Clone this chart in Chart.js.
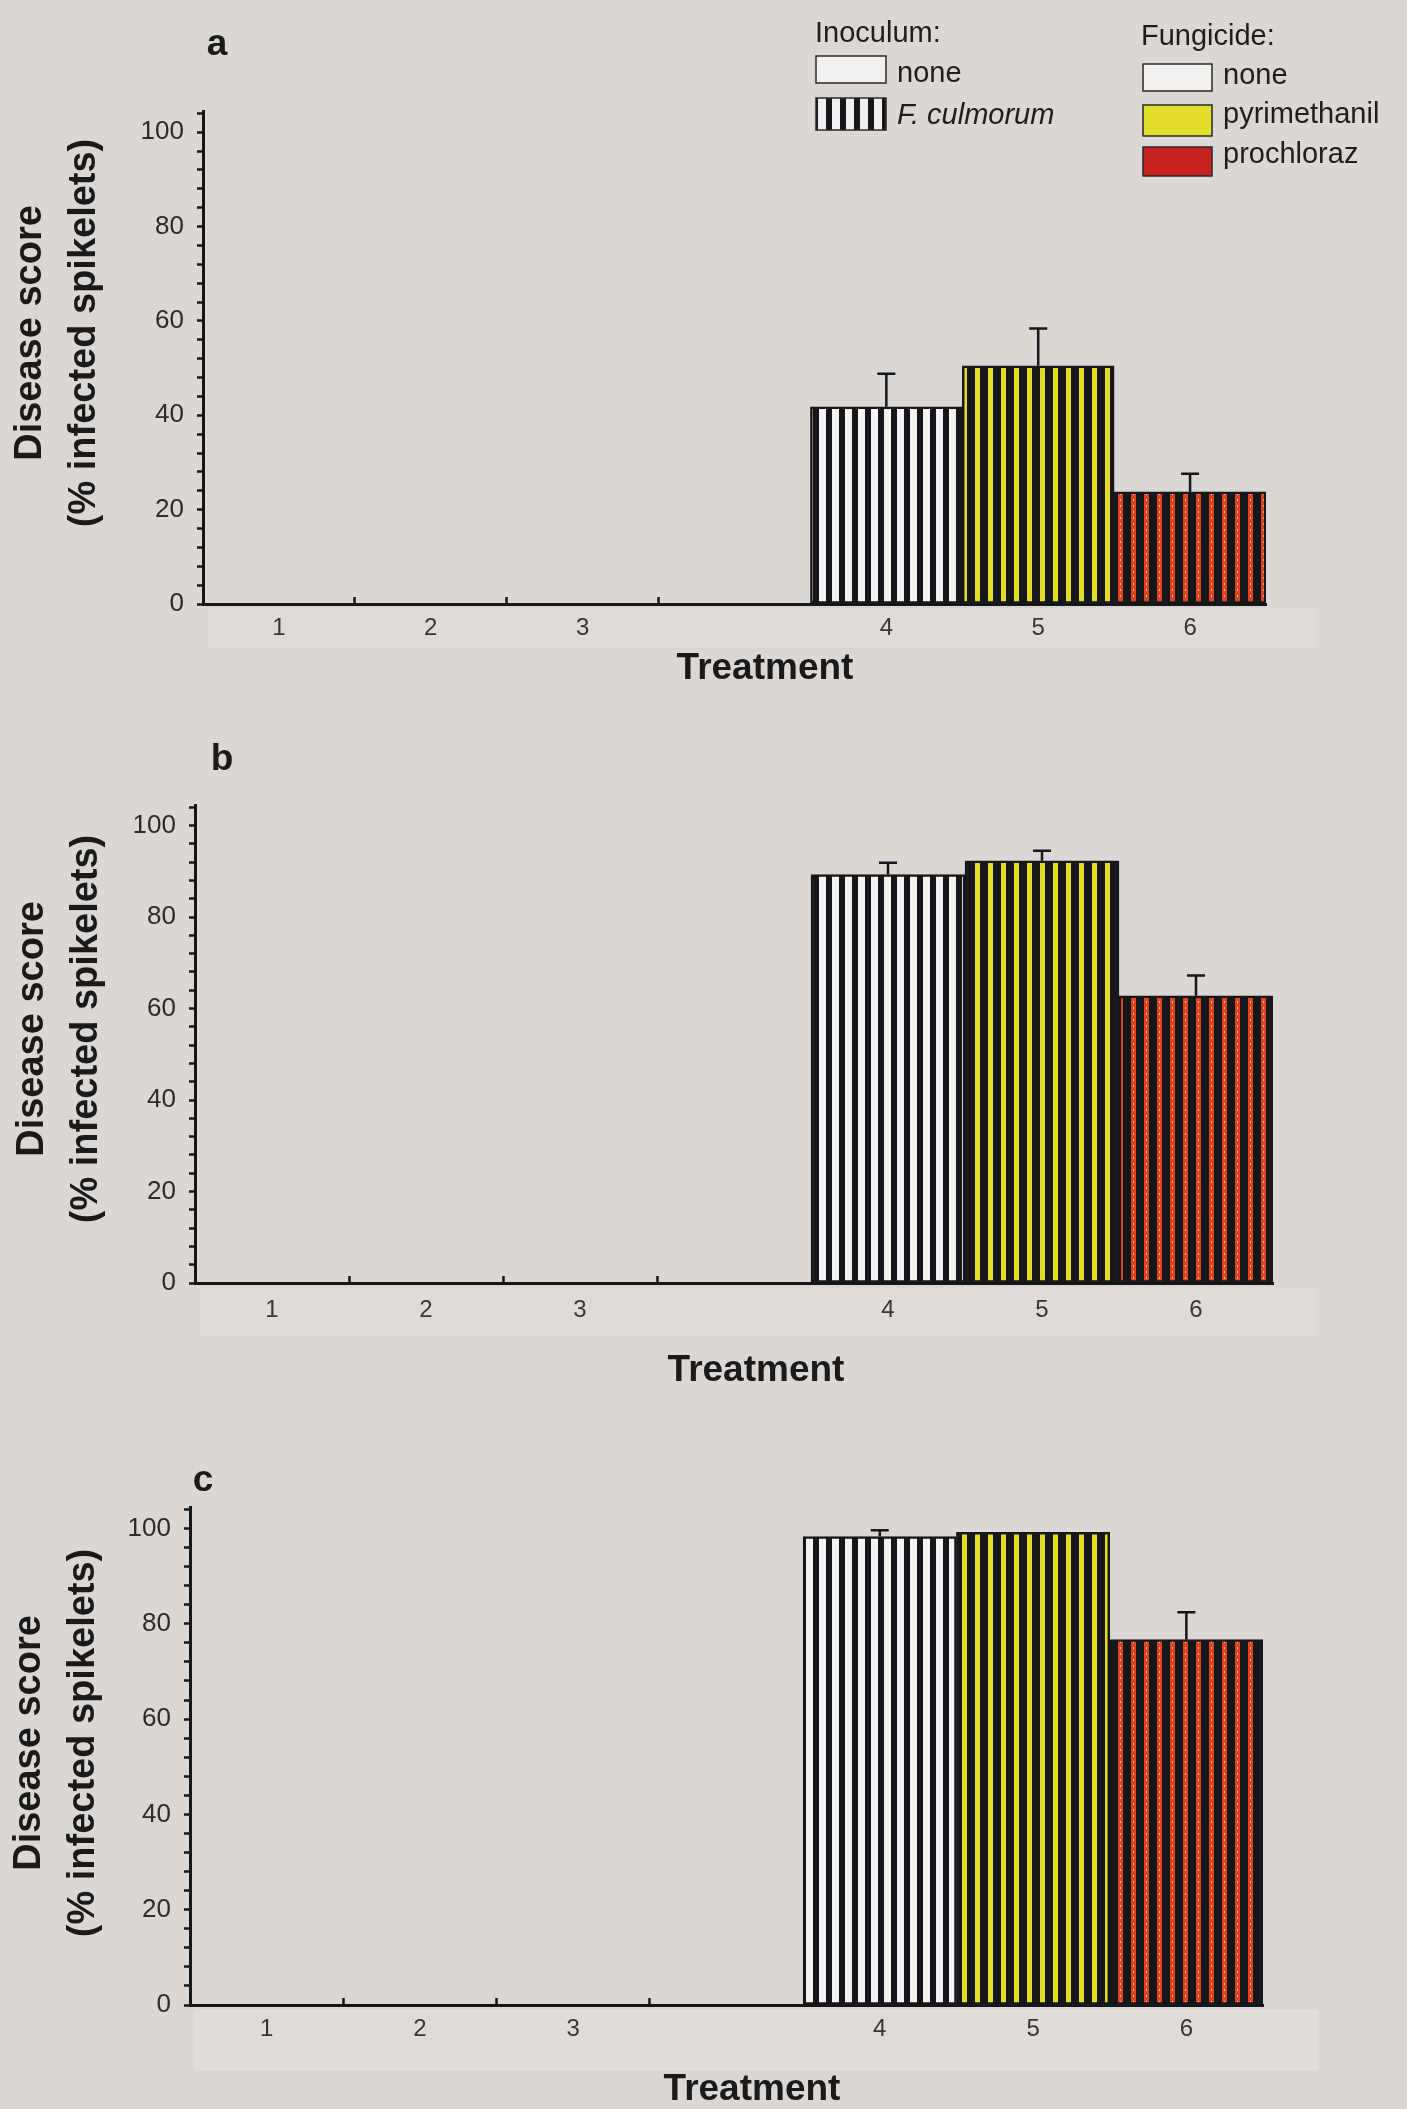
<!DOCTYPE html>
<html>
<head>
<meta charset="utf-8">
<title>Disease score by treatment</title>
<script src="https://cdn.jsdelivr.net/npm/chart.js@4.4.1/dist/chart.umd.min.js"></script>
<style>
  html, body { margin: 0; padding: 0; background: #dad7d4; }
  body { width: 1407px; height: 2109px; position: relative; overflow: hidden; }
  canvas { position: absolute; left: 0; }
</style>
</head>
<body>
<canvas id="panelA" width="1407" height="700" style="top:0px"></canvas>
<canvas id="panelB" width="1407" height="700" style="top:700px"></canvas>
<canvas id="panelC" width="1407" height="709" style="top:1400px"></canvas>
<script>
// Treatments 1-3: no inoculum; empty slot; treatments 4-6: F. culmorum
const treatmentLabels = ['1', '2', '3', '', '4', '5', '6'];

// Mean disease score (% infected spikelets) and standard error, per panel
const scoreA = [0, 0, 0, null, 41.8, 50.5, 23.8];
const errorA = [null, null, null, null, 7.0, 7.9, 3.8];
const scoreB = [0, 0, 0, null, 89.3, 92.3, 62.8];
const errorB = [null, null, null, null, 2.6, 2.2, 4.4];
const scoreC = [0, 0, 0, null, 98.3, 99.2, 76.7];
const errorC = [null, null, null, null, 1.3, null, 5.7];

// Y axis: minor ticks every 4, labels every 20
const yTickValues = [0, 4, 8, 12, 16, 20, 24, 28, 32, 36, 40, 44, 48, 52, 56, 60, 64, 68, 72, 76, 80, 84, 88, 92, 96, 100, 104];
const yLabelValues = [0, 20, 40, 60, 80, 100];
const yMax = 104.5;

const yTitleLines = ['Disease score', '(% infected spikelets)'];
const xTitle = 'Treatment';

const FONT = '"Liberation Sans", Arial, Helvetica, sans-serif';
const INK = '#15171b';

// vertical stripe fill: coloured stripe on a black ground
function stripes(ctx, colour, stripeW, gapW, speck) {
  const tile = document.createElement('canvas');
  tile.width = stripeW + gapW;
  tile.height = 6;
  const g = tile.getContext('2d');
  g.fillStyle = INK;
  g.fillRect(0, 0, tile.width, tile.height);
  g.fillStyle = colour;
  g.fillRect(0, 0, stripeW, tile.height);
  if (speck) {
    g.fillStyle = speck;
    g.fillRect(Math.floor(stripeW / 2), 1, 1, 2);
  }
  return ctx.createPattern(tile, 'repeat');
}

// upward standard-error whiskers with a cap
const errorBars = {
  id: 'errorBars',
  afterDatasetsDraw(chart) {
    const ds = chart.data.datasets[0];
    const errs = ds.errors || [];
    const meta = chart.getDatasetMeta(0);
    const y = chart.scales.y;
    const ctx = chart.ctx;
    ctx.save();
    ctx.strokeStyle = INK;
    ctx.lineWidth = 2.5;
    errs.forEach((e, i) => {
      if (e == null || ds.data[i] == null) return;
      const bar = meta.data[i];
      const top = y.getPixelForValue(ds.data[i] + e);
      ctx.beginPath();
      ctx.moveTo(bar.x, bar.y);
      ctx.lineTo(bar.x, top);
      ctx.moveTo(bar.x - 9, top);
      ctx.lineTo(bar.x + 9, top);
      ctx.stroke();
    });
    ctx.restore();
  }
};

// panel letter, axis titles and the pale band under the category labels
const panelText = {
  id: 'panelText',
  beforeDraw(chart, args, o) {
    const { ctx, chartArea: a } = chart;
    ctx.save();
    ctx.fillStyle = 'rgba(255,255,255,0.12)';
    ctx.fillRect(a.left + 3, a.bottom + 3, o.bandRight - a.left - 3, o.bandHeight);
    ctx.strokeStyle = 'rgba(0,0,0,0.03)';
    ctx.lineWidth = 1;
    ctx.strokeRect(a.left + 3.5, a.bottom + 3.5, o.bandRight - a.left - 4, o.bandHeight - 1);
    ctx.restore();
  },
  afterDraw(chart, args, o) {
    const ctx = chart.ctx;
    ctx.save();
    ctx.fillStyle = '#1a1a1a';
    ctx.textAlign = 'center';
    ctx.textBaseline = 'middle';
    ctx.font = 'bold 37px ' + FONT;
    ctx.fillText(o.letter, o.letterX, o.letterY);
    ctx.fillText(xTitle, o.xTitleX, o.xTitleY);
    ctx.translate(o.yTitleX, o.yTitleY);
    ctx.rotate(-Math.PI / 2);
    ctx.font = 'bold 38px ' + FONT;
    ctx.fillText(yTitleLines[0], 0, 0);
    ctx.fillText(yTitleLines[1], 0, o.yTitleGap);
    ctx.restore();
  }
};

// two-part key: inoculum and fungicide
const keyBox = {
  id: 'keyBox',
  afterDraw(chart) {
    const ctx = chart.ctx;
    ctx.save();
    ctx.fillStyle = '#1e1e1e';
    ctx.textAlign = 'left';
    ctx.textBaseline = 'alphabetic';
    ctx.font = '29px ' + FONT;
    ctx.fillText('Inoculum:', 815, 42);
    ctx.fillText('none', 897, 82);
    ctx.fillText('Fungicide:', 1141, 45);
    ctx.fillText('none', 1223, 84);
    ctx.fillText('pyrimethanil', 1223, 123);
    ctx.fillText('prochloraz', 1223, 163);
    ctx.font = 'italic 29px ' + FONT;
    ctx.fillText('F. culmorum', 897, 124);

    ctx.lineWidth = 1.5;
    ctx.strokeStyle = '#2a2a2a';
    const box = (x, y, w, h, fill) => {
      ctx.fillStyle = fill;
      ctx.fillRect(x, y, w, h);
      ctx.strokeRect(x, y, w, h);
    };
    box(816, 56, 70, 27, '#f1f0ee');
    const tile = document.createElement('canvas');
    tile.width = 14; tile.height = 1;
    const g = tile.getContext('2d');
    g.fillStyle = '#f1f0ee'; g.fillRect(0, 0, 14, 1);
    g.fillStyle = INK; g.fillRect(0, 0, 6, 1);
    box(816, 98, 70, 32, ctx.createPattern(tile, 'repeat'));
    box(1143, 64, 69, 27, '#f1f0ee');
    box(1143, 105, 69, 31, '#e3de2c');
    box(1143, 147, 69, 29, '#c7221f');
    ctx.restore();
  }
};

Chart.register(errorBars, panelText, keyBox);

function buildPanel(id, scores, errors, geo, text, showKey) {
  const canvas = document.getElementById(id);
  const ctx = canvas.getContext('2d');
  const clear = 'rgba(0,0,0,0)';
  const fills = [clear, clear, clear, clear,
    stripes(ctx, '#f3f3f1', 7, 6),
    stripes(ctx, '#e2dd26', 5, 8),
    stripes(ctx, '#e2431f', 5, 8, 'rgba(255,200,170,0.85)')];
  const Y_AXIS_W = 100, X_AXIS_H = 60;
  return new Chart(ctx, {
    type: 'bar',
    data: {
      labels: treatmentLabels,
      datasets: [{
        data: scores,
        errors: errors,
        backgroundColor: fills,
        borderColor: INK,
        borderWidth: c => (c.raw > 0 ? 2.5 : 0),
        borderSkipped: false,
        barPercentage: 1,
        categoryPercentage: 1
      }]
    },
    options: {
      responsive: false,
      maintainAspectRatio: false,
      animation: false,
      devicePixelRatio: 1,
      layout: {
        padding: {
          left: geo.left - Y_AXIS_W,
          top: geo.top,
          right: 1407 - geo.right,
          bottom: canvas.height - geo.bottom - X_AXIS_H
        }
      },
      plugins: {
        legend: { display: false },
        tooltip: { enabled: false },
        panelText: text,
        keyBox: showKey ? {} : false
      },
      scales: {
        x: {
          offset: true,
          afterFit: s => { s.height = X_AXIS_H; },
          grid: {
            display: true,
            offset: true,
            drawOnChartArea: false,
            drawTicks: true,
            tickLength: -7,
            tickWidth: 2.5,
            tickColor: c => (c.index >= 1 && c.index <= 3 ? INK : clear)
          },
          border: { display: true, color: INK, width: 3 },
          ticks: {
            font: { family: FONT, size: 24 },
            color: '#363636',
            padding: geo.xLabelPad,
            maxRotation: 0,
            autoSkip: false
          }
        },
        y: {
          min: 0,
          max: yMax,
          afterBuildTicks: s => { s.ticks = yTickValues.map(v => ({ value: v })); },
          afterFit: s => { s.width = Y_AXIS_W; },
          grid: {
            display: true,
            drawOnChartArea: false,
            drawTicks: true,
            tickLength: 6,
            tickWidth: 2.5,
            tickColor: INK
          },
          border: { display: true, color: INK, width: 3 },
          ticks: {
            autoSkip: false,
            padding: 13,
            color: '#2c2c2c',
            font: { family: FONT, size: 26 },
            callback: v => (yLabelValues.includes(v) ? String(v) : '')
          }
        }
      }
    }
  });
}

buildPanel('panelA', scoreA, errorA,
  { left: 203, right: 1266, top: 111, bottom: 604, xLabelPad: 17 },
  { letter: 'a', letterX: 217, letterY: 45, xTitleX: 765, xTitleY: 669,
    yTitleX: 31, yTitleY: 333, yTitleGap: 54, bandRight: 1318, bandHeight: 42 },
  true);

buildPanel('panelB', scoreB, errorB,
  { left: 195, right: 1273, top: 105, bottom: 583, xLabelPad: 20 },
  { letter: 'b', letterX: 222, letterY: 60, xTitleX: 756, xTitleY: 671,
    yTitleX: 33, yTitleY: 329, yTitleGap: 54, bandRight: 1318, bandHeight: 52 },
  false);

buildPanel('panelC', scoreC, errorC,
  { left: 190, right: 1263, top: 107, bottom: 605, xLabelPad: 17 },
  { letter: 'c', letterX: 203, letterY: 81, xTitleX: 752, xTitleY: 690,
    yTitleX: 30, yTitleY: 343, yTitleGap: 54, bandRight: 1320, bandHeight: 64 },
  false);
</script>
</body>
</html>
